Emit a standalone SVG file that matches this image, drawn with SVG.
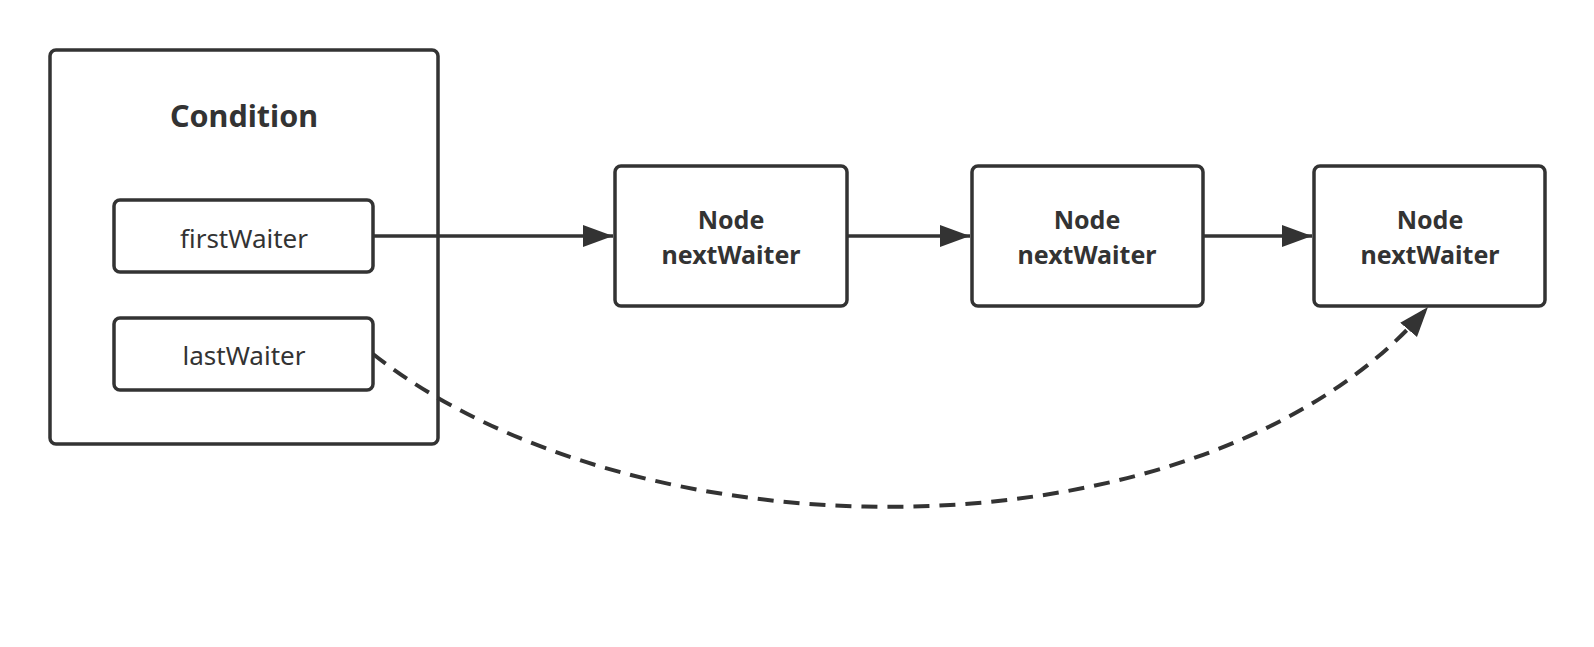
<svg xmlns="http://www.w3.org/2000/svg" width="1594" height="647" viewBox="0 0 1594 647">
<style>
.box{fill:#ffffff;stroke:#333333;stroke-width:3.5}
.t{font-family:"Noto Sans","Open Sans","Liberation Sans",sans-serif;fill:#333333;text-anchor:middle}
.b{font-weight:bold}
.nt{font-size:25px}
.edge{fill:none;stroke:#333333;stroke-width:3.5}
.dash{stroke-dasharray:16 10;stroke-width:4}
</style>
<defs>
<marker id="arr" markerUnits="userSpaceOnUse" markerWidth="32" markerHeight="24" refX="30" refY="11" orient="auto">
<path d="M0,0 L30,11 L0,22 Z" fill="#333333"/>
</marker>
</defs>
<rect width="1594" height="647" fill="#ffffff"/>
<g id="condition">
<rect class="box" x="50" y="50" width="388" height="394" rx="6"/>
<text class="t b" x="244" y="127" font-size="30.5">Condition</text>
</g>
<g id="firstWaiter">
<rect class="box" x="114" y="200" width="259" height="72" rx="6"/>
<text class="t" x="244" y="248" font-size="26">firstWaiter</text>
</g>
<g id="lastWaiter">
<rect class="box" x="114" y="318" width="259" height="72" rx="6"/>
<text class="t" x="244" y="365" font-size="26">lastWaiter</text>
</g>
<g id="node1">
<rect class="box" x="615" y="166" width="232" height="140" rx="6"/>
<text class="t b nt" x="731" y="229">Node</text>
<text class="t b nt" x="731" y="264">nextWaiter</text>
</g>
<g id="node2">
<rect class="box" x="972" y="166" width="231" height="140" rx="6"/>
<text class="t b nt" x="1087" y="229">Node</text>
<text class="t b nt" x="1087" y="264">nextWaiter</text>
</g>
<g id="node3">
<rect class="box" x="1314" y="166" width="231" height="140" rx="6"/>
<text class="t b nt" x="1430" y="229">Node</text>
<text class="t b nt" x="1430" y="264">nextWaiter</text>
</g>
<g id="connectors">
<path class="edge" d="M373,236 L613,236" marker-end="url(#arr)"/>
<path class="edge" d="M847,236 L970,236" marker-end="url(#arr)"/>
<path class="edge" d="M1203,236 L1312,236" marker-end="url(#arr)"/>
<path class="edge dash" d="M373,354 C640,565 1209,565 1428,307" marker-end="url(#arr)"/>
</g>
</svg>
